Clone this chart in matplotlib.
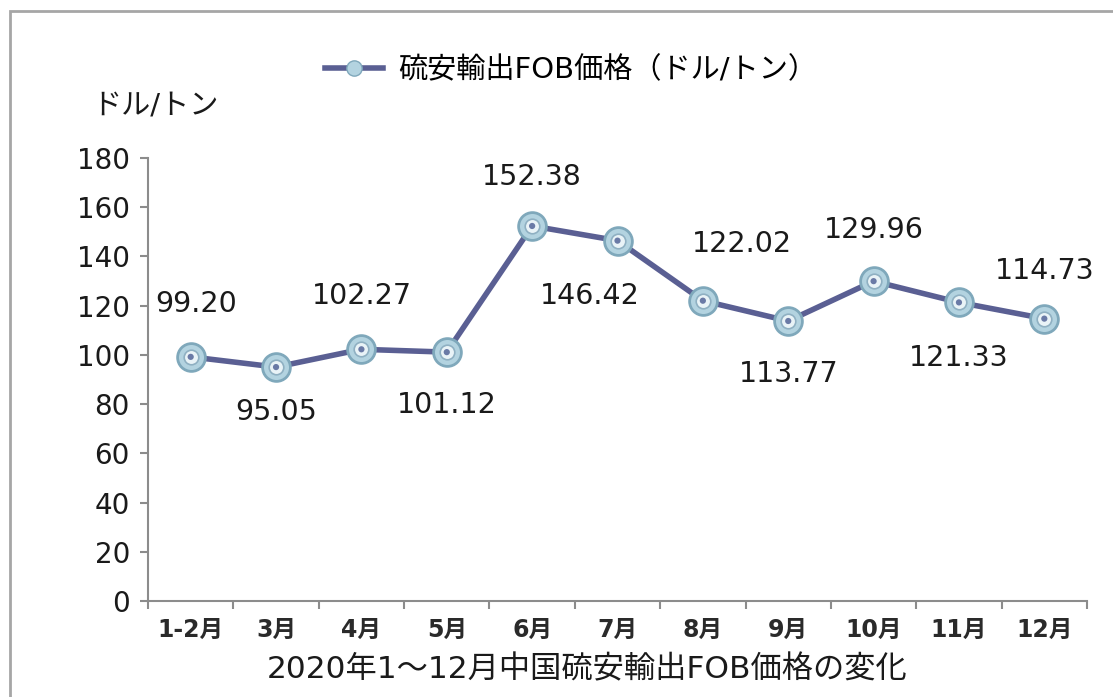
import matplotlib
matplotlib.use("Agg")
import matplotlib.pyplot as plt
from matplotlib.patches import Rectangle
from matplotlib.lines import Line2D

# Latin glyphs from DejaVu (wide, like the original), kana/kanji from Noto CJK
plt.rcParams['font.family'] = ['DejaVu Sans', 'Noto Sans CJK JP']

months = ['1-2月', '3月', '4月', '5月', '6月', '7月', '8月', '9月', '10月', '11月', '12月']
prices = [99.20, 95.05, 102.27, 101.12, 152.38, 146.42, 122.02, 113.77, 129.96, 121.33, 114.73]
# label above (+1) or below (-1) the point
label_side = [1, -1, 1, -1, 1, -1, 1, -1, 1, -1, 1]
yticks = [0, 20, 40, 60, 80, 100, 120, 140, 160, 180]

line_color = '#5a5f93'
fig = plt.figure(figsize=(11.13, 6.97), dpi=100)

# outer frame of the chart area
fig.patches.append(Rectangle((10 / 1113, -0.1), 1.2, 1 - 11 / 697 + 0.1,
                             transform=fig.transFigure, fill=False,
                             edgecolor='#a6a6a6', linewidth=2))

ax = fig.add_axes([148 / 1113, 1 - 601 / 697, (1087 - 148) / 1113, (601 - 158) / 697])
x = list(range(len(months)))

ax.plot(x, prices, color=line_color, linewidth=4, zorder=2)
ax.scatter(x, prices, s=400, facecolor='#b3d3e0', edgecolor='#7fa8bb', linewidth=2, zorder=3)
ax.scatter(x, prices, s=110, facecolor='#e9f3f7', edgecolor='#8fb0c2', linewidth=1.2, zorder=4)
ax.scatter(x, prices, s=20, facecolor='#6a7aa6', edgecolor='none', zorder=5)

# data labels
offsets = {0: (4, 0), 1: (0, 6), 4: (0, -3), 5: (-20, -2), 6: (28, 3), 8: (0, -1), 9: (0, -2), 10: (0, -4)}
for i, (xi, v, side) in enumerate(zip(x, prices, label_side)):
    dx, dy = offsets.get(i, (0, 0))
    ax.annotate(f'{v:.2f}', (xi, v), xytext=(dx, 28 * side + dy), textcoords='offset points',
                ha='center', va='bottom' if side > 0 else 'top', fontsize=20.5, color='#1a1a1a')

ax.set_xlim(-0.5, len(months) - 0.5)
ax.set_ylim(0, 180)
ax.set_yticks(yticks)
ax.set_yticklabels([str(t) for t in yticks], fontsize=20, color='#1a1a1a')
ax.set_xticks([i - 0.5 for i in range(len(months) + 1)])
ax.set_xticklabels([])
ax.set_xticks(x, minor=True)
ax.set_xticklabels(months, minor=True, fontsize=17, fontweight='bold', color='#2a2a2a')
ax.tick_params(axis='x', which='minor', length=0, pad=12)
ax.tick_params(axis='x', which='major', length=6, color='#8c8c8c', width=1.5)
ax.tick_params(axis='y', length=6, color='#8c8c8c', width=1.5, pad=7)

for s in ['top', 'right']:
    ax.spines[s].set_visible(False)
for s in ['left', 'bottom']:
    ax.spines[s].set_color('#8c8c8c')
    ax.spines[s].set_linewidth(1.5)

ax.set_xlabel('2020年1～12月中国硫安輸出FOB価格の変化', fontsize=22.5, color='#1a1a1a')
ax.xaxis.set_label_coords((587 - 148) / 939, -54 / 443)
fig.text(92 / 1113, 1 - 105 / 697, 'ドル/トン', fontsize=21, va='center', ha='left', color='#1a1a1a')

# legend
handle = Line2D([0], [0], color=line_color, linewidth=4, marker='o', markersize=11,
                markerfacecolor='#b3d3e0', markeredgecolor='#7fa8bb')
fig.legend([handle], ['硫安輸出FOB価格（ドル/トン）'], loc='center',
           bbox_to_anchor=(571 / 1113, 1 - 70 / 697), frameon=False, fontsize=21,
           handlelength=2.0, handletextpad=0.5)

fig.savefig('out.png', dpi=100)
